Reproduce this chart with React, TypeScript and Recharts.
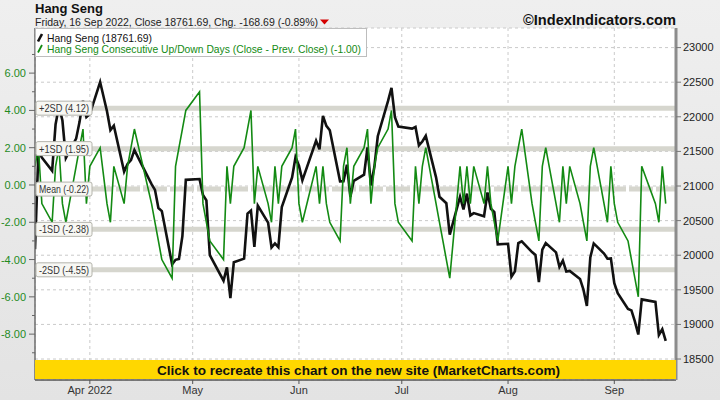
import React from 'react';
import { ComposedChart, Line, XAxis, YAxis, CartesianGrid, ReferenceLine } from 'recharts';

const FONT = '"Liberation Sans", Arial, sans-serif';

// trading days shown, Mar 16 – Sep 16 2022
const tradeDates = [
  '2022-03-16', '2022-03-17', '2022-03-18', '2022-03-21', '2022-03-22', '2022-03-23', '2022-03-24', '2022-03-25',
  '2022-03-28', '2022-03-29', '2022-03-30', '2022-03-31',
  '2022-04-01', '2022-04-04', '2022-04-06', '2022-04-07', '2022-04-08', '2022-04-11', '2022-04-12', '2022-04-13',
  '2022-04-14', '2022-04-19', '2022-04-20', '2022-04-21', '2022-04-22', '2022-04-25', '2022-04-26', '2022-04-27',
  '2022-04-28', '2022-04-29',
  '2022-05-03', '2022-05-04', '2022-05-05', '2022-05-06', '2022-05-10', '2022-05-11', '2022-05-12', '2022-05-13',
  '2022-05-16', '2022-05-17', '2022-05-18', '2022-05-19', '2022-05-20', '2022-05-23', '2022-05-24', '2022-05-25',
  '2022-05-26', '2022-05-27', '2022-05-30', '2022-05-31',
  '2022-06-01', '2022-06-02', '2022-06-06', '2022-06-07', '2022-06-08', '2022-06-09', '2022-06-10', '2022-06-13',
  '2022-06-14', '2022-06-15', '2022-06-16', '2022-06-17', '2022-06-20', '2022-06-21', '2022-06-22', '2022-06-23',
  '2022-06-24', '2022-06-27', '2022-06-28', '2022-06-29', '2022-06-30',
  '2022-07-04', '2022-07-05', '2022-07-06', '2022-07-07', '2022-07-08', '2022-07-11', '2022-07-12', '2022-07-13',
  '2022-07-14', '2022-07-15', '2022-07-18', '2022-07-19', '2022-07-20', '2022-07-21', '2022-07-22', '2022-07-25',
  '2022-07-26', '2022-07-27', '2022-07-28', '2022-07-29',
  '2022-08-01', '2022-08-02', '2022-08-03', '2022-08-04', '2022-08-05', '2022-08-08', '2022-08-09', '2022-08-10',
  '2022-08-11', '2022-08-12', '2022-08-15', '2022-08-16', '2022-08-17', '2022-08-18', '2022-08-19', '2022-08-22',
  '2022-08-23', '2022-08-24', '2022-08-25', '2022-08-26', '2022-08-29', '2022-08-30', '2022-08-31',
  '2022-09-01', '2022-09-02', '2022-09-05', '2022-09-06', '2022-09-07', '2022-09-08', '2022-09-09', '2022-09-13',
  '2022-09-14', '2022-09-15', '2022-09-16',
];

const closes = [
  20087, 21501, 21412, 21221, 21889, 22154, 21946, 21405, 21684, 21927, 22232, 21997,
  22039, 22502, 22080, 21808, 21872, 21208, 21320, 21374, 21518, 21027, 20944, 20682, 20638, 19869, 19934, 19946,
  20276, 21089,
  21101, 20870, 20793, 20002, 19633, 19824, 19380, 19898, 19950, 20602, 20644, 20120, 20717, 20470, 20112, 20171,
  20116, 20697, 21123, 21415,
  21294, 21082, 21653, 21531, 22014, 21869, 21806, 21067, 21068, 21308, 20845, 21075, 21163, 21559, 21008, 21273,
  21719, 22229, 22419, 21996, 21860,
  21830, 21853, 21587, 21643, 21725, 21125, 20844, 20797, 20751, 20297, 20846, 20661, 20890, 20575, 20609, 20563,
  20906, 20671, 20622, 20156,
  20165, 19689, 19767, 20174, 20201, 20045, 20003, 19610, 20082, 20175, 20041, 19830, 19922, 19763, 19773, 19657,
  19503, 19268, 19968, 20170, 20023, 19949, 19954,
  19597, 19452, 19225, 19202, 19044, 18854, 19362, 19326, 18847, 18930, 18762,
];

// consecutive up (+) / down (-) day count
const upDownDays = [
  1, 2, -1, -2, 1, 2, -1, -2, 1, 2, 3, -1,
  1, 2, -1, -2, 1, -1, 1, 2, 3, -1, -2, -3, -4, -5, 1, 2, 3, 4,
  5, -1, -2, -3, -4, 1, -1, 1, 2, 3, 4, -1, 1, -1, -2, 1, -1, 1, 2, 3,
  -1, -2, 1, -1, 1, -1, -2, -3, 1, 2, -1, 1, 2, 3, -1, 1, 2, 3, 4, -1, -2,
  -3, 1, -1, 1, 2, -1, -2, -3, -4, -5, 1, -1, 1, -1, 1, -1, 1, -1, -2, -3,
  1, -1, 1, 2, 3, -1, -2, -3, 1, 2, -1, -2, 1, -1, 1, -1, -2, -3, 1, 2, -1, -2, 1,
  -1, -2, -3, -4, -5, -6, 1, -1, -2, 1, -1,
];

const monthTicks = ['2022-04-01', '2022-05-01', '2022-06-01', '2022-07-01', '2022-08-01', '2022-09-01'];
const monthLabels = ['Apr 2022', 'May', 'Jun', 'Jul', 'Aug', 'Sep'];

const streakTicks = [-9, -8, -7, -6, -5, -4, -3, -2, -1, 0, 1, 2, 3, 4, 5, 6, 7];
const priceTicks = [18500, 19000, 19500, 20000, 20500, 21000, 21500, 22000, 22500, 23000];

const sdValues = [4.12, 1.95, -0.22, -2.38, -4.55];
const sdLabels = ['+2SD (4.12)', '+1SD (1.95)', 'Mean (-0.22)', '-1SD (-2.38)', '-2SD (-4.55)'];

const toDay = (iso: string) => Date.parse(iso) / 86400000;
const firstDay = toDay('2022-03-16');
const lastDay = toDay('2022-09-19');
const monthTickDays = monthTicks.map(toDay);

const rows = tradeDates.map((d, i) => ({ t: toDay(d), close: closes[i], streak: upDownDays[i] }));

const StreakTick = (props: any) => {
  const { x, y, payload } = props;
  const v = payload.value;
  const major = v % 2 === 0;
  return (
    <g>
      <line x1={x + (major ? 3 : 6)} x2={x + 9} y1={y} y2={y} stroke="#666" />
      {major && (
        <text x={x} y={y} dy={4} textAnchor="end" fontSize={11} fill="#1f8a1f" fontFamily={FONT}>
          {v.toFixed(2)}
        </text>
      )}
    </g>
  );
};

const BandLabel = (props: any) => {
  const { viewBox, text } = props;
  if (!viewBox) return null;
  const { x, y } = viewBox;
  return (
    <g>
      <rect x={x + 1} y={y - 7} width={56} height={14} rx={2} fill="#f7f7f3" stroke="#b4b4ac" />
      <text x={x + 4} y={y + 4} fontSize={10.5} fill="#333" fontFamily={FONT} textLength={50} lengthAdjust="spacingAndGlyphs">
        {text}
      </text>
    </g>
  );
};

export default function App() {
  return (
    <div style={{ position: 'absolute', left: 0, top: 0, width: 720, height: 400, background: 'linear-gradient(#efefef, #e3e3e3)', overflow: 'hidden' }}>
      <ComposedChart width={720} height={400} data={rows} margin={{ top: 28, right: 0, bottom: 0, left: 0 }}>
        <CartesianGrid yAxisId="price" fill="#ffffff" stroke="#cacaca" strokeDasharray="3 3" />
        <XAxis
          dataKey="t"
          type="number"
          domain={[firstDay, lastDay]}
          ticks={monthTickDays}
          interval={0}
          tickFormatter={(v: number) => monthLabels[monthTickDays.indexOf(v)]}
          height={20}
          tickSize={4}
          tickMargin={2}
          axisLine={{ stroke: '#555', strokeWidth: 1.5 }}
          tickLine={{ stroke: '#555' }}
          tick={{ fill: '#333', fontSize: 11, fontFamily: FONT }}
          allowDataOverflow
        />
        <XAxis
          xAxisId="top"
          orientation="top"
          dataKey="t"
          type="number"
          domain={[firstDay, lastDay]}
          height={0}
          tick={false}
          tickLine={false}
          axisLine={{ stroke: '#a8a8a8' }}
        />
        <YAxis
          yAxisId="streak"
          orientation="left"
          width={35}
          domain={[-10.46, 8.42]}
          ticks={streakTicks}
          interval={0}
          tick={<StreakTick />}
          tickLine={false}
          tickSize={6}
          tickMargin={3}
          axisLine={{ stroke: '#6e6e6e', strokeWidth: 1.5 }}
          allowDataOverflow
        />
        <YAxis
          yAxisId="price"
          orientation="right"
          width={44}
          domain={[18197, 23283]}
          ticks={priceTicks}
          interval={0}
          tickSize={5}
          tickMargin={2}
          tickLine={{ stroke: '#777' }}
          axisLine={{ stroke: '#8c8c8c', strokeWidth: 3 }}
          tick={{ fill: '#222', fontSize: 11, fontFamily: FONT }}
          allowDataOverflow
        />
        {sdValues.map((v, i) => (
          <ReferenceLine
            key={`band-${i}`}
            yAxisId="streak"
            y={v}
            stroke="#d6d6ce"
            strokeWidth={5}
            strokeDasharray={i === 2 ? '24 3' : undefined}
            zIndex={-50}
          />
        ))}
        <Line
          yAxisId="price"
          dataKey="close"
          type="linear"
          stroke="#111"
          strokeWidth={2.6}
          dot={false}
          isAnimationActive={false}
        />
        <Line
          yAxisId="streak"
          dataKey="streak"
          type="linear"
          stroke="#138a13"
          strokeWidth={1.6}
          dot={false}
          isAnimationActive={false}
        />
        {sdValues.map((v, i) => (
          <ReferenceLine
            key={`label-${i}`}
            yAxisId="streak"
            y={v}
            stroke="none"
            strokeWidth={0}
            zIndex={1500}
            label={<BandLabel text={sdLabels[i]} />}
          />
        ))}
      </ComposedChart>

      <svg width={720} height={400} style={{ position: 'absolute', left: 0, top: 0, pointerEvents: 'none' }}>
        <text x={35} y={12.5} fontSize={13} fontWeight="bold" fill="#111" fontFamily={FONT}>Hang Seng</text>
        <text x={35} y={25.5} fontSize={10.5} fill="#222" fontFamily={FONT} textLength={283} lengthAdjust="spacingAndGlyphs">
          Friday, 16 Sep 2022, Close 18761.69, Chg. -168.69 (-0.89%)
        </text>
        <polygon points="320,19.5 329,19.5 324.5,24.5" fill="#d40000" />
        <text x={676} y={25} textAnchor="end" fontSize={15} fontWeight="bold" fill="#111" fontFamily={FONT} textLength={153} lengthAdjust="spacingAndGlyphs">
          ©IndexIndicators.com
        </text>

        <rect x={35.5} y={28.5} width={331} height={28} fill="#fff" stroke="#bdbdbd" />
        <line x1={38} y1={41.5} x2={42} y2={34} stroke="#111" strokeWidth={2.6} />
        <text x={47} y={41.5} fontSize={11} fill="#111" fontFamily={FONT} textLength={105} lengthAdjust="spacingAndGlyphs">
          Hang Seng (18761.69)
        </text>
        <line x1={38} y1={52.5} x2={42} y2={45} stroke="#138a13" strokeWidth={1.8} />
        <text x={47} y={52.5} fontSize={11} fill="#138a13" fontFamily={FONT} textLength={314} lengthAdjust="spacingAndGlyphs">
          Hang Seng Consecutive Up/Down Days (Close - Prev. Close) (-1.00)
        </text>

        <rect x={35} y={360} width={641} height={19} fill="#ffd700" />
        <text x={358.5} y={374.5} textAnchor="middle" fontSize={13.5} fontWeight="bold" fill="#111" fontFamily={FONT} textLength={403} lengthAdjust="spacingAndGlyphs">
          Click to recreate this chart on the new site (MarketCharts.com)
        </text>
      </svg>
    </div>
  );
}
